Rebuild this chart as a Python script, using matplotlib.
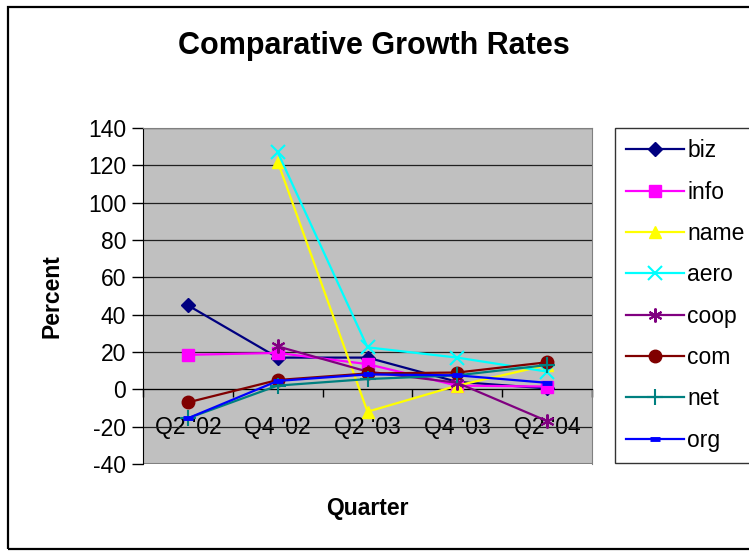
import numpy as np
import matplotlib
matplotlib.use('Agg')
import matplotlib.pyplot as plt
from matplotlib.patches import Rectangle

plt.rcParams['font.family'] = ['Liberation Sans', 'DejaVu Sans']
plt.rcParams['axes.unicode_minus'] = False

quarters = ["Q2 '02", "Q4 '02", "Q2 '03", "Q4 '03", "Q2 '04"]
nan = np.nan
biz = [45, 17, 17, 4, 0.5]
info = [18.5, 19.5, 13.5, 2, 1.5]
name = [nan, 122, -12, 2, 13]
aero = [nan, 127, 22.5, 17, 9.5]
coop = [nan, 23, 9.5, 3.5, -17]
com = [-7, 5, 8.5, 9, 14.5]
net = [-15.5, 2, 5.5, 7.5, 13]
org = [-15.5, 4.5, 8, 7.5, 3.5]

series = [
    ('biz', biz, '#000080', 'D', 7),
    ('info', info, '#FF00FF', 's', 8),
    ('name', name, '#FFFF00', '^', 9),
    ('aero', aero, '#00FFFF', 'x', 10),
    ('coop', coop, '#800080', (6, 2, 0), 10),
    ('com', com, '#800000', 'o', 9),
    ('net', net, '#008080', '+', 11),
    ('org', org, '#0000FF', '_', 7),
]

W, H = 749, 552
fig = plt.figure(figsize=(W / 100, H / 100), dpi=100)

# outer chart border (right edge runs off the picture)
fig.patches.append(Rectangle((8 / W, 1 - 549 / H), 760 / W, 542 / H,
                             transform=fig.transFigure, fill=False,
                             edgecolor='black', linewidth=1.6))

ax = fig.add_axes([143 / W, 1 - 464 / H, (592 - 143) / W, (464 - 128) / H])
ax.set_facecolor('#C0C0C0')

x = np.arange(len(quarters))
for lab, vals, col, mk, ms in series:
    extra = {}
    if mk == '_':
        extra['markeredgewidth'] = 3.5
    elif mk in ('x', '+') or isinstance(mk, tuple):
        extra['markeredgewidth'] = 1.5
    ax.plot(x, vals, color=col, lw=1.6, marker=mk, markersize=ms,
            markerfacecolor=col, markeredgecolor=col, label=lab,
            zorder=3, **extra)

ax.set_xlim(-0.5, 4.5)
ax.set_ylim(-40, 140)
ax.set_yticks(np.arange(-40, 141, 20))
ax.yaxis.grid(True, color='#202020', lw=0.9)
ax.set_axisbelow(True)

ax.spines['bottom'].set_position(('data', 0))
ax.spines['bottom'].set_color('black')
ax.spines['bottom'].set_zorder(2.5)
ax.spines['left'].set_color('black')
for s in ('top', 'right'):
    ax.spines[s].set_color('#808080')
ax.axhline(-40, color='#808080', lw=1.5, zorder=2)

ax.set_xticks(x)
ax.set_xticklabels(quarters)
ax.set_xticks(np.arange(-0.5, 4.6, 1), minor=True)
ax.tick_params(axis='x', which='major', length=0, pad=19, labelsize=16.5)
ax.tick_params(axis='x', which='minor', length=6, direction='out', width=1)
ax.tick_params(axis='y', length=8, width=1, pad=4, labelsize=16.5)

fig.text(374 / W, 1 - 46 / H, 'Comparative Growth Rates', ha='center',
         va='center', fontsize=22, fontweight='bold')
fig.text(52 / W, 1 - 296 / H, 'Percent', ha='center', va='center',
         rotation=90, fontsize=16.5, fontweight='bold')
fig.text(367 / W, 1 - 508 / H, 'Quarter', ha='center', va='center',
         fontsize=16.5, fontweight='bold')

leg = fig.legend(loc='upper left', bbox_to_anchor=(615 / W, 1 - 128 / H),
                 fontsize=16.5, frameon=True, fancybox=False,
                 edgecolor='black', handlelength=2.5, handletextpad=0.15,
                 labelspacing=0.8, borderpad=0.5, borderaxespad=0)
leg.get_frame().set_linewidth(1.0)

fig.savefig('out.png', dpi=100)
